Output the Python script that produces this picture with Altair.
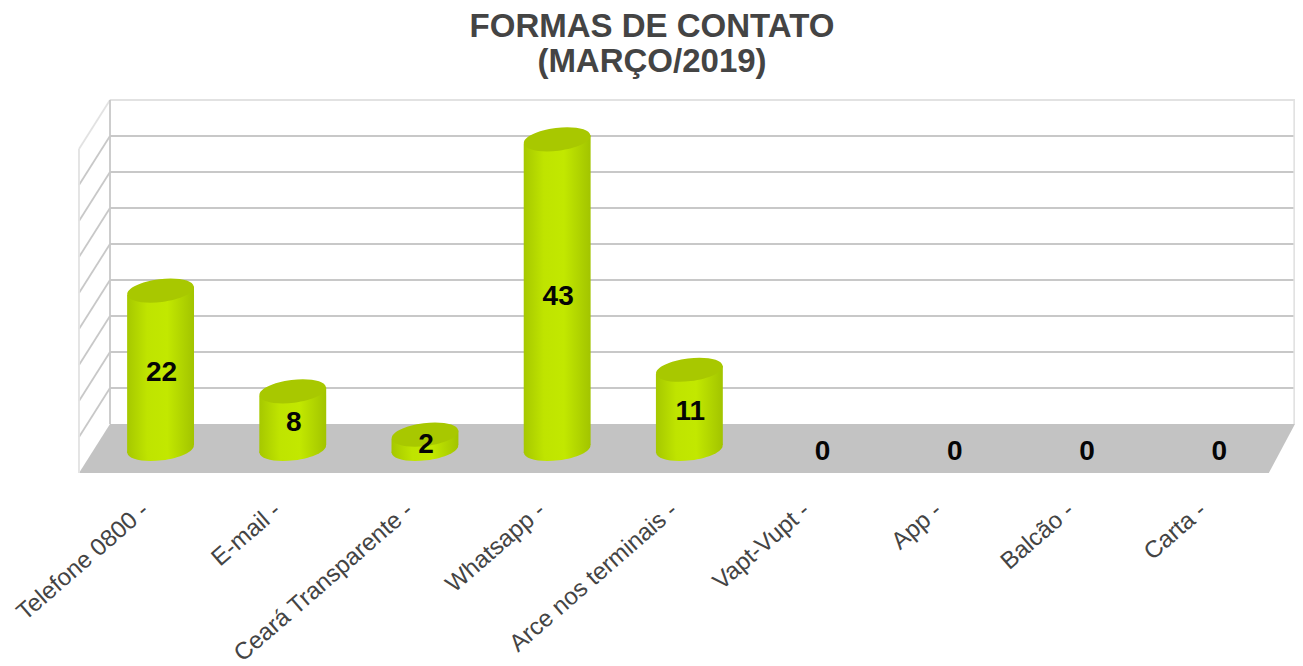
import altair as alt
import pandas as pd

categories = ["Telefone 0800 -", "E-mail -", "Ceará Transparente -", "Whatsapp -",
              "Arce nos terminais -", "Vapt-Vupt -", "App -", "Balcão -", "Carta -"]
values = [22, 8, 2, 43, 11, 0, 0, 0, 0]
grid_values = [5, 10, 15, 20, 25, 30, 35, 40]

DX = 31 / 132.2    # depth of the box, in category slots
DY = 49 / 7.2      # depth of the box, in value units
BX = 0.117         # bar plane inside the box
BY = 24 / 7.2
HALF = 0.253
TILT = 0.57
N = len(categories)
TOP = 45
XMAX = 1216 / 132.2

df = pd.DataFrame({"cat": categories, "value": values})
df["c"] = [i + 0.5 + BX for i in range(N)]
df["base"] = BY
df["top"] = df["value"] + BY
df["mid"] = df["value"] / 2 + BY

xs = alt.Scale(domain=[0, XMAX], nice=False, zero=False)
ys = alt.Scale(domain=[0, DY + TOP], nice=False, zero=False)
labels = "[" + ",".join("'%s'" % c for c in categories) + "][datum.value - 0.5]"
x_axis = alt.Axis(values=[i + 0.5 for i in range(N)], labelExpr=labels, labelAngle=-41,
                  labelAlign="right", labelBaseline="middle", labelFontSize=24,
                  labelFont="Liberation Sans", labelColor="#444444", labelPadding=34,
                  labelLimit=400, labelOverlap=False, labelBound=False, labelFlush=False,
                  domain=False, ticks=False, grid=False, title=None)

floor = pd.DataFrame({"x": [0, DX, N, XMAX], "y": [0, 0, 0, DY], "y2": [0, DY, DY, DY]})
floor_l = alt.Chart(floor).mark_area(color="#c3c3c3", interpolate="linear").encode(
    x=alt.X("x:Q", scale=xs, axis=x_axis),
    y=alt.Y("y:Q", scale=ys, axis=None),
    y2="y2:Q",
)

rules = []
for v in grid_values:
    rules.append({"x": DX, "x2": XMAX, "y": DY + v, "y2": DY + v, "k": "g"})
    rules.append({"x": 0, "x2": DX, "y": v, "y2": DY + v, "k": "g"})
rules.append({"x": DX, "x2": XMAX, "y": DY + TOP, "y2": DY + TOP, "k": "e"})
rules.append({"x": 0, "x2": DX, "y": TOP, "y2": DY + TOP, "k": "e"})
rules.append({"x": 0, "x2": 0, "y": 0, "y2": TOP, "k": "e"})
rules.append({"x": DX, "x2": DX, "y": DY, "y2": DY + TOP, "k": "g"})
rules.append({"x": XMAX - 0.006, "x2": XMAX - 0.006, "y": DY, "y2": DY + TOP, "k": "e"})
rules = pd.DataFrame(rules)
rule_l = alt.Chart(rules).mark_rule(strokeWidth=1.8).encode(
    x=alt.X("x:Q", scale=xs), x2="x2:Q",
    y=alt.Y("y:Q", scale=ys), y2="y2:Q",
    color=alt.Color("k:N", scale=alt.Scale(domain=["g", "e"], range=["#c8c8c8", "#e2e2e2"]), legend=None),
)

grad = alt.Gradient(gradient="linear", x1=0, x2=1, y1=0, y2=0, stops=[
    alt.GradientStop(offset=0, color="#a6c800"),
    alt.GradientStop(offset=0.3, color="#bfe400"),
    alt.GradientStop(offset=0.6, color="#c2e800"),
    alt.GradientStop(offset=1, color="#a2c400"),
])
ellipse = "M-1,0C-1,-0.19,-0.55,-0.34,0,-0.34C0.55,-0.34,1,-0.19,1,0C1,0.19,0.55,0.34,0,0.34C-0.55,0.34,-1,0.19,-1,0Z"
bars = df[df["value"] > 0]

sides = []
for _, b in bars.iterrows():
    sides.append({"cat": b["cat"], "x": b["c"] - HALF, "y": b["base"] - TILT, "y2": b["top"] - TILT})
    sides.append({"cat": b["cat"], "x": b["c"] + HALF, "y": b["base"] + TILT, "y2": b["top"] + TILT})
sides = pd.DataFrame(sides)

base_e = alt.Chart(bars).mark_point(shape=ellipse, filled=True, size=4489, opacity=1, fill=grad,
                                    angle=353, strokeWidth=0).encode(
    x=alt.X("c:Q", scale=xs), y=alt.Y("base:Q", scale=ys))
body = alt.Chart(sides).mark_area(fill=grad, interpolate="linear").encode(
    x=alt.X("x:Q", scale=xs),
    y=alt.Y("y:Q", scale=ys), y2="y2:Q", detail="cat:N")
top_e = alt.Chart(bars).mark_point(shape=ellipse, filled=True, size=4489, opacity=1, color="#a8c800",
                                   angle=353, strokeWidth=0).encode(
    x=alt.X("c:Q", scale=xs), y=alt.Y("top:Q", scale=ys))
text = alt.Chart(df).mark_text(font="Liberation Sans", fontWeight="bold", fontSize=28, color="#050505",
                               dx=1, dy=3).encode(
    x=alt.X("c:Q", scale=xs), y=alt.Y("mid:Q", scale=ys), text="value:Q")

chart = alt.layer(floor_l, rule_l, base_e, body, top_e, text).properties(
    width=1216, height=373,
    autosize=alt.AutoSizeParams(type="none"),
    padding={"left": 71, "top": 92, "right": 0, "bottom": 193},
    background="white",
    title=alt.TitleParams(
        text=["FORMAS DE CONTATO", "(MARÇO/2019)"], font="Liberation Sans", fontWeight="bold",
        fontSize=33, color="#444444", lineHeight=35, anchor="middle", frame="group", dx=-35, offset=20),
).configure_view(stroke=None)

chart.save("out.html", embed_options={"renderer": "svg", "actions": False})
